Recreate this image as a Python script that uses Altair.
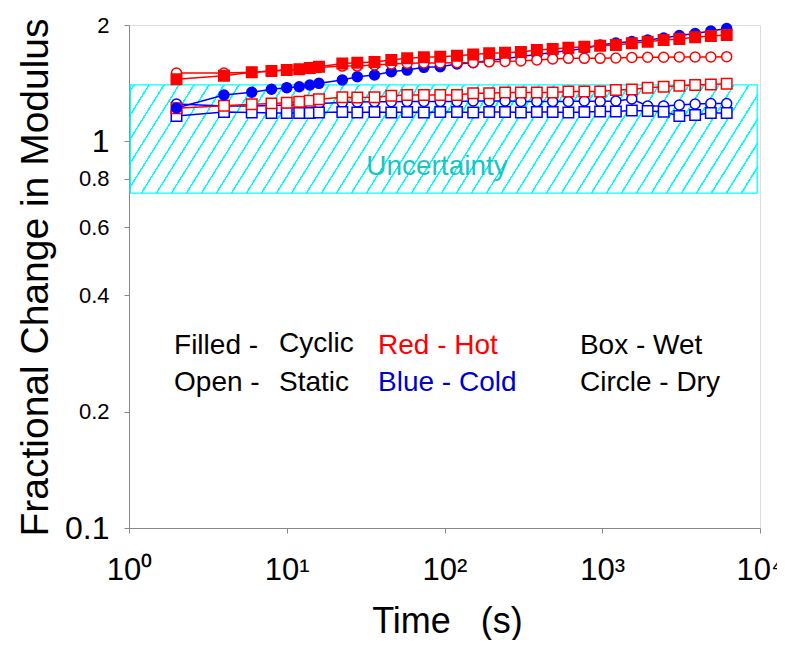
import altair as alt
import pandas as pd

# ---------------- data ----------------
times = [2, 4, 6, 8, 10, 12, 14, 16, 22.5, 28, 36, 46, 58, 74, 94, 120, 152, 192,
         242, 305, 385, 485, 610, 770, 970, 1220, 1540, 1940, 2450, 3080, 3880, 4880, 6150]

hot_cyclic_wet = [1.447, 1.479, 1.509, 1.520, 1.529, 1.536, 1.548, 1.560, 1.590, 1.598, 1.604,
                  1.624, 1.640, 1.650, 1.656, 1.665, 1.677, 1.690, 1.695, 1.704, 1.723, 1.733,
                  1.747, 1.757, 1.767, 1.776, 1.793, 1.811, 1.829, 1.840, 1.859, 1.873, 1.884]
hot_static_dry = [1.503, 1.503, 1.509, 1.520, 1.529, 1.534, 1.543, 1.552, 1.566, 1.566, 1.576,
                  1.585, 1.592, 1.595, 1.595, 1.598, 1.600, 1.606, 1.610, 1.614, 1.624, 1.633,
                  1.640, 1.640, 1.640, 1.643, 1.648, 1.650, 1.650, 1.653, 1.653, 1.653, 1.656]
cold_cyclic_dry = [1.220, 1.318, 1.340, 1.364, 1.377, 1.385, 1.399, 1.413, 1.441, 1.470, 1.485,
                   1.514, 1.529, 1.554, 1.560, 1.585, 1.598, 1.619, 1.638, 1.658, 1.678, 1.698,
                   1.718, 1.739, 1.776, 1.797, 1.813, 1.829, 1.851, 1.879, 1.901, 1.930, 1.959]
hot_static_wet = [1.218, 1.237, 1.247, 1.254, 1.259, 1.266, 1.274, 1.285, 1.300, 1.298, 1.300,
                  1.313, 1.318, 1.318, 1.318, 1.318, 1.332, 1.332, 1.337, 1.337, 1.337, 1.337,
                  1.345, 1.345, 1.345, 1.358, 1.363, 1.376, 1.384, 1.393, 1.399, 1.404, 1.410]
cold_static_dry = [1.249, 1.235, 1.235, 1.238, 1.242, 1.246, 1.249, 1.253, 1.261, 1.264, 1.266,
                   1.266, 1.268, 1.268, 1.268, 1.268, 1.272, 1.272, 1.272, 1.268, 1.268, 1.268,
                   1.268, 1.272, 1.268, 1.272, 1.287, 1.235, 1.235, 1.242, 1.249, 1.253, 1.253]
cold_static_wet = [1.163, 1.191, 1.188, 1.184, 1.184, 1.184, 1.184, 1.188, 1.191, 1.188, 1.191,
                   1.188, 1.191, 1.188, 1.191, 1.191, 1.188, 1.191, 1.191, 1.188, 1.191, 1.191,
                   1.188, 1.191, 1.195, 1.195, 1.202, 1.199, 1.193, 1.163, 1.170, 1.184, 1.184]

# drawing order: bottom first
series_names = ["cold_static_dry", "cold_static_wet", "hot_static_wet",
                "cold_cyclic_dry", "hot_static_dry", "hot_cyclic_wet"]
series_values = [cold_static_dry, cold_static_wet, hot_static_wet,
                 cold_cyclic_dry, hot_static_dry, hot_cyclic_wet]
series_colors = ["#0000FF", "#0000FF", "#FF0000", "#0000FF", "#FF0000", "#FF0000"]
series_shapes = ["circle", "square", "square", "circle", "circle", "square"]
series_filled = [False, False, False, True, False, True]

band_x = [1.02, 9600]
band_y = [0.735, 1.40]

note_text = ["Filled -", "Cyclic", "Red - Hot", "Box - Wet",
             "Open -", "Static", "Blue - Cold", "Circle - Dry"]
note_x = [1.93, 8.93, 37.9, 722, 1.93, 8.93, 37.9, 722]
note_y = [0.295, 0.2985, 0.295, 0.295, 0.2365, 0.2365, 0.2365, 0.2365]
note_color = ["black", "black", "#FF0000", "black", "black", "black", "#0000CC", "black"]

x_ticks = [1, 10, 100, 1000, 10000]
y_ticks = [0.1, 0.2, 0.4, 0.6, 0.8, 1, 2]

# ---------------- tables ----------------
rows = []
for name, vals in zip(series_names, series_values):
    for t, v in zip(times, vals):
        rows.append({"series": name, "time": t, "value": v})
df = pd.DataFrame(rows)

band = pd.DataFrame({"time": [band_x[0]], "time2": [band_x[1]],
                     "value": [band_y[0]], "value2": [band_y[1]]})
notes = pd.DataFrame({"label": note_text, "time": note_x, "value": note_y, "c": note_color})
unc = pd.DataFrame({"label": ["Uncertainty"], "time": [89.6], "value": [0.858]})

FONT = "Liberation Sans"

# hatch pattern as a striped linear gradient (style only)
CYAN = "#00FFFF"
period = 0.0216
lw = 0.0026
stops = [{"offset": 0.0, "color": "white"}]
s = 0.004
while s + lw < 1.0:
    stops += [{"offset": round(s, 5), "color": "white"},
              {"offset": round(s, 5), "color": CYAN},
              {"offset": round(s + lw, 5), "color": CYAN},
              {"offset": round(s + lw, 5), "color": "white"}]
    s += period
stops.append({"offset": 1.0, "color": "white"})
hatch = {"gradient": "linear", "x1": 0, "y1": 0, "x2": 1.095, "y2": 0.118, "stops": stops}

label_expr = ("datum.value == 1 ? '10⁰' : datum.value == 10 ? '10¹' : "
              "datum.value == 100 ? '10²' : datum.value == 1000 ? '10³' : '10⁴'")

x_axis = alt.Axis(values=x_ticks, labelExpr=label_expr, grid=False,
                  title="Time\u00a0\u00a0\u00a0(s)", titleFontSize=36, titleFont=FONT,
                  titleFontWeight="normal",
                  titleX=318, titleY=93, titleBaseline="middle", titleAlign="center",
                  labelFont=FONT, labelFontSize=31, labelPadding=22,
                  labelFlush=False, labelOverlap=False)
y_axis = alt.Axis(values=y_ticks, labelExpr="datum.value", grid=False,
                  title="Fractional Change in Modulus", titleFontSize=39,
                  titleFontWeight="normal", titleFont=FONT,
                  titleX=-94, titleY=252, titleAngle=-90, titleBaseline="middle",
                  titleAlign="center", labelFont=FONT,
                  labelFontSize={"condition": {"test": "datum.value == 1 || datum.value == 0.1",
                                               "value": 32}, "value": 22},
                  labelPadding=15, labelFlush=False, labelOverlap=False)

xs = alt.Scale(type="log", domain=[1, 10000])
ys = alt.Scale(type="log", domain=[0.1, 2])

layers = []
rect = alt.Chart(band).mark_rect(fill=hatch, stroke="#00FFFF", strokeWidth=1.3).encode(
    x=alt.X("time:Q", scale=xs, axis=x_axis), x2="time2",
    y=alt.Y("value:Q", scale=ys, axis=y_axis), y2="value2")
layers.append(rect)

utext = alt.Chart(unc).mark_text(font=FONT, fontSize=28, color="#1CC4C4",
                                 align="center", baseline="middle").encode(
    x=alt.X("time:Q", scale=xs, axis=x_axis), y=alt.Y("value:Q", scale=ys, axis=y_axis),
    text="label:N")
layers.append(utext)

for name, col, shp, fil in zip(series_names, series_colors, series_shapes, series_filled):
    base = alt.Chart(df).transform_filter(alt.datum.series == name)
    enc = dict(x=alt.X("time:Q", scale=xs, axis=x_axis),
               y=alt.Y("value:Q", scale=ys, axis=y_axis))
    line = base.mark_line(color=col, strokeWidth=1.5).encode(**enc)
    pts = base.mark_point(shape=shp, filled=True, fill=(col if fil else "white"),
                          stroke=col, strokeWidth=1.5, opacity=1,
                          size=(110 if shp == "square" else 100)).encode(**enc)
    layers += [line, pts]

ntext = alt.Chart(notes).mark_text(font=FONT, fontSize=28, align="left",
                                   baseline="middle").encode(
    x=alt.X("time:Q", scale=xs, axis=x_axis), y=alt.Y("value:Q", scale=ys, axis=y_axis),
    text="label:N", color=alt.Color("c:N", scale=None))
layers.append(ntext)

chart = alt.layer(*layers).properties(
    width=631, height=503,
    autosize=alt.AutoSizeParams(type="none"),
    padding={"left": 121, "top": 17, "right": 17, "bottom": 112},
).configure_view(stroke="black", strokeWidth=1.5).configure_axis(
    domainColor="black", domainWidth=1.5, tickColor="black", tickWidth=1.3, tickSize=7,
    labelColor="black", titleColor="black", titleFontWeight="normal"
).configure(background="white")

chart.save("out.html", embed_options={"renderer": "svg", "actions": False})
